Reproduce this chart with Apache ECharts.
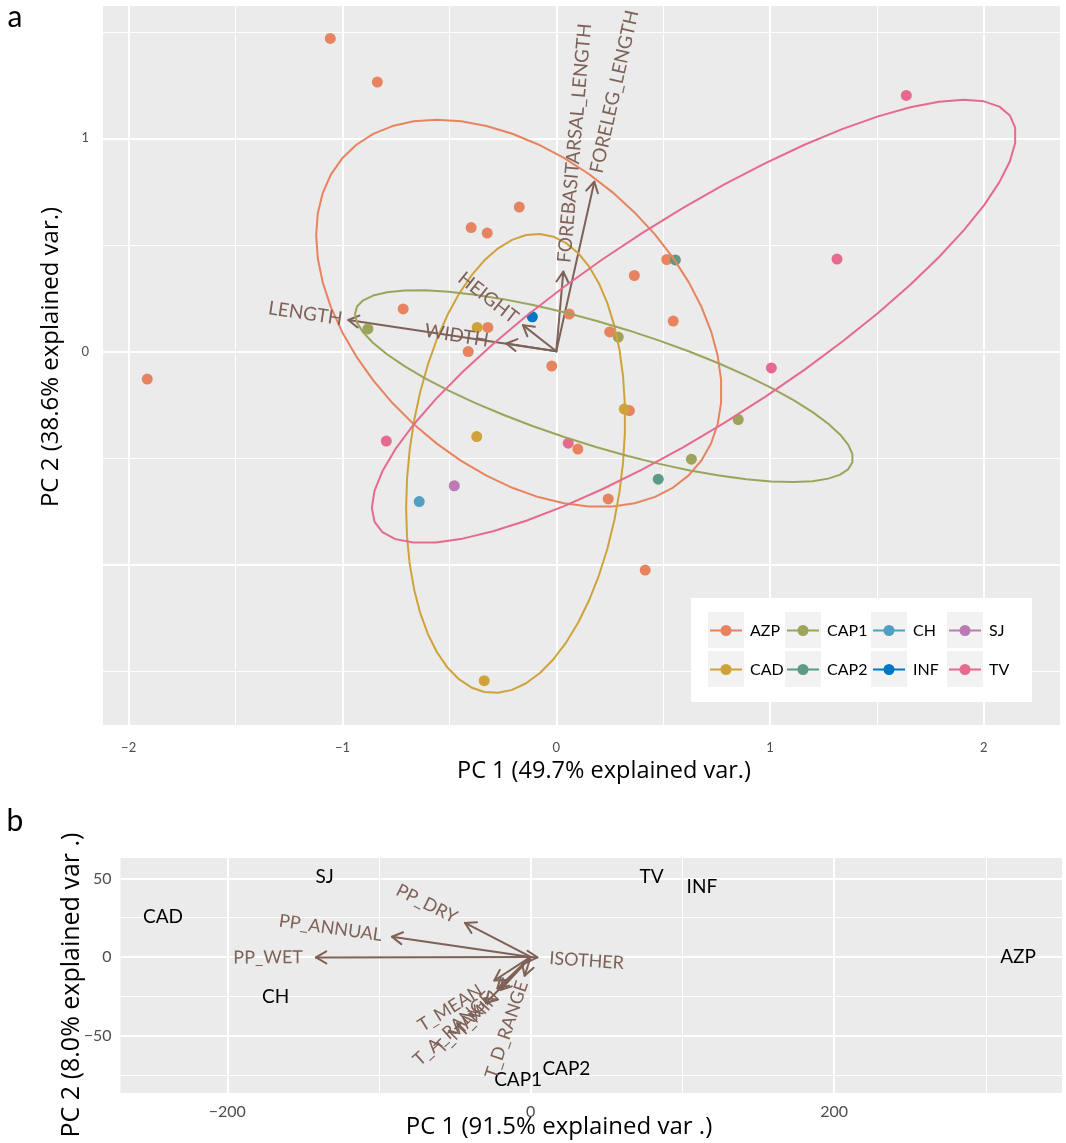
<!DOCTYPE html>
<html><head><meta charset="utf-8">
<script src="https://cdn.jsdelivr.net/npm/echarts@6/dist/echarts.min.js"></script>
<style>html,body{margin:0;padding:0;background:#fff}#c{width:1066px;height:1143px}</style>
</head><body><div id="c"></div>
<script>
// ---------------- DATA: panel a (individuals, PC1/PC2) ----------------
const groupNames = ['AZP','CAD','CAP1','CAP2','CH','INF','SJ','TV'];
const pc1_AZP = [-1.057,-0.837,-1.913,-0.398,-0.323,-0.173,-0.716,-0.320,-0.412,-0.021,0.061,0.250,0.365,0.517,0.547,0.342,0.101,0.243,0.416];
const pc2_AZP = [1.469,1.264,-0.130,0.581,0.555,0.677,0.199,0.112,-0.001,-0.069,0.175,0.091,0.356,0.431,0.142,-0.278,-0.459,-0.693,-1.027];
const pc1_CAD = [-0.370,-0.372,0.318,-0.337];
const pc2_CAD = [0.112,-0.400,-0.271,-1.546];
const pc1_CAP1 = [-0.881,0.290,0.851,0.632];
const pc2_CAP1 = [0.105,0.067,-0.320,-0.506];
const pc1_CAP2 = [0.557,0.477];
const pc2_CAP2 = [0.429,-0.600];
const pc1_CH = [-0.641];
const pc2_CH = [-0.705];
const pc1_INF = [-0.112];
const pc2_INF = [0.162];
const pc1_SJ = [-0.477];
const pc2_SJ = [-0.631];
const pc1_TV = [1.637,1.313,1.006,-0.795,0.056];
const pc2_TV = [1.201,0.433,-0.078,-0.421,-0.431];
const ellipseProb = 0.68;

// panel a variable loadings
const varNamesA = ['LENGTH','WIDTH','HEIGHT','FOREBASITARSAL_LENGTH','FORELEG_LENGTH'];
const varPC1A = [-0.973,-0.234,-0.156,0.033,0.178];
const varPC2A = [0.147,0.037,0.123,0.374,0.796];

// panel a axes
const xTicksA = [-2,-1,0,1,2];
const yTicksA = [0,1];
const xGridMajorA = [-2,-1,0,1,2];
const xGridMinorA = [-1.5,-0.5,0.5,1.5];
const yGridMajorA = [-1,0,1];
const yGridMinorA = [-1.5,-0.5,0.5,1.5];

// ---------------- DATA: panel b (sites, PC1/PC2) ----------------
const siteNames = ['SJ','CAD','CH','TV','INF','AZP','CAP2','CAP1'];
const sitePC1 = [-135.8,-242.4,-168.2,79.7,112.8,321.2,23.5,-8.3];
const sitePC2 = [51.3,25.6,-25.6,51.3,44.6,0,-71.0,-78.5];
const varNamesB = ['PP_WET','PP_ANNUAL','PP_DRY','ISOTHER','T_MEAN','T_A_RANGE','T_MAX','T_MIN','T_D_RANGE'];
const varPC1B = [-141.6,-91.5,-43.3,4.4,-24,-22,-29.6,-20,-4];
const varPC2B = [-0.3,12.9,21.7,-0.3,-15,-20,-29.3,-21,-12];
const xTicksB = [-200,0,200];
const yTicksB = [-50,0,50];
const xGridMajorB = [-200,0,200];
const xGridMinorB = [-100,100,300];
const yGridMajorB = [-50,0,50];
const yGridMinorB = [-75,-25,25];

// ---------------- STYLE / LAYOUT ----------------
const FONT = 'Lato, "Open Sans", sans-serif';
const TITLE_FONT = '"Open Sans", Lato, sans-serif';
const groupColors = {AZP:'#E8835F',CAD:'#D0A23B',CAP1:'#9CA35A',CAP2:'#5B9A86',CH:'#4FA0C4',INF:'#0077C4',SJ:'#BB7AB2',TV:'#E66A8D'};
const arrowColor = '#7E6157';
const labelGapA = {LENGTH:6, WIDTH:18, HEIGHT:9, FOREBASITARSAL_LENGTH:9, FORELEG_LENGTH:9};
const labelGapB = {PP_WET:13, PP_ANNUAL:10, PP_DRY:10, ISOTHER:12, T_MEAN:16, T_A_RANGE:10, T_MAX:8, T_MIN:6, T_D_RANGE:6};

const groupPC1 = {AZP:pc1_AZP,CAD:pc1_CAD,CAP1:pc1_CAP1,CAP2:pc1_CAP2,CH:pc1_CH,INF:pc1_INF,SJ:pc1_SJ,TV:pc1_TV};
const groupPC2 = {AZP:pc2_AZP,CAD:pc2_CAD,CAP1:pc2_CAP1,CAP2:pc2_CAP2,CH:pc2_CH,INF:pc2_INF,SJ:pc2_SJ,TV:pc2_TV};

function ellipse(xs, ys, prob) {
  const n = xs.length;
  const mx = xs.reduce((a,b)=>a+b,0)/n, my = ys.reduce((a,b)=>a+b,0)/n;
  let sxx=0, syy=0, sxy=0;
  for (let i=0;i<n;i++){ const dx=xs[i]-mx, dy=ys[i]-my; sxx+=dx*dx; syy+=dy*dy; sxy+=dx*dy; }
  sxx/=(n-1); syy/=(n-1); sxy/=(n-1);
  const a=Math.sqrt(sxx), b=sxy/a, c=Math.sqrt(Math.max(syy-b*b,0));
  const ed=Math.sqrt(-2*Math.log(1-prob));
  const th=[];
  for (let i=0;i<50;i++) th.push(-Math.PI+2*Math.PI*i/49);
  for (let i=0;i<50;i++) th.push(Math.PI-2*Math.PI*i/49);
  return th.map(t=>[mx+ed*Math.cos(t)*a, my+ed*(Math.cos(t)*b+Math.sin(t)*c)]);
}

function gridSeries(xi, xMaj, xMin, yMaj, yMin) {
  const d = [];
  xMin.forEach(v=>d.push({xAxis:v, lineStyle:{color:'#fff',width:1,type:'solid'}}));
  yMin.forEach(v=>d.push({yAxis:v, lineStyle:{color:'#fff',width:1,type:'solid'}}));
  xMaj.forEach(v=>d.push({xAxis:v, lineStyle:{color:'#fff',width:2,type:'solid'}}));
  yMaj.forEach(v=>d.push({yAxis:v, lineStyle:{color:'#fff',width:2,type:'solid'}}));
  return {type:'line', xAxisIndex:xi, yAxisIndex:xi, data:[], z:1, silent:true,
    markLine:{silent:true, symbol:['none','none'], label:{show:false}, z:1, animation:false, data:d}};
}

function arrowSeries(xi, names, xs, ys, z) {
  return {type:'custom', xAxisIndex:xi, yAxisIndex:xi, z:z, silent:true,
    data: names.map((n,i)=>[xs[i], ys[i], i]),
    renderItem:(params, api)=>{
      const o = api.coord([0,0]);
      const t = api.coord([api.value(0), api.value(1)]);
      const dx=t[0]-o[0], dy=t[1]-o[1];
      const len=Math.hypot(dx,dy)||1;
      const bx=-dx/len, by=-dy/len;
      const hl=12, ha=30*Math.PI/180, c=Math.cos(ha), s=Math.sin(ha);
      const h1=[t[0]+hl*(bx*c-by*s), t[1]+hl*(bx*s+by*c)];
      const h2=[t[0]+hl*(bx*c+by*s), t[1]+hl*(-bx*s+by*c)];
      const ls={stroke:arrowColor, lineWidth:2, fill:null, lineCap:'round', lineJoin:'round'};
      return {type:'group', children:[
        {type:'line', shape:{x1:o[0],y1:o[1],x2:t[0],y2:t[1]}, style:ls},
        {type:'polyline', shape:{points:[h1,t,h2]}, style:ls}
      ]};
    }};
}

function varLabelSeries(xi, names, xs, ys, gaps, fs, z) {
  return {type:'custom', xAxisIndex:xi, yAxisIndex:xi, z:z, silent:true,
    data: names.map((n,i)=>[xs[i], ys[i], i]),
    renderItem:(params, api)=>{
      const i = api.value(2);
      const vx=api.value(0), vy=api.value(1);
      const t = api.coord([vx, vy]);
      const th = Math.atan(vy/vx);
      const rd=[Math.cos(th), -Math.sin(th)];
      const sg = vx>=0?1:-1;
      const g = gaps[names[i]] || 8;
      const ax=t[0]+sg*g*rd[0], ay=t[1]+sg*g*rd[1];
      return {type:'text', x:ax, y:ay, rotation:th,
        style:{text:names[i], fill:arrowColor, fontSize:fs, fontFamily:FONT,
          align: sg>0?'left':'right', verticalAlign:'middle',
          textAlign: sg>0?'left':'right', textVerticalAlign:'middle'}};
    }};
}

const series = [];
series.push(gridSeries(0, xGridMajorA, xGridMinorA, yGridMajorA, yGridMinorA));
series.push(gridSeries(1, xGridMajorB, xGridMinorB, yGridMajorB, yGridMinorB));
series.push(arrowSeries(0, varNamesA, varPC1A, varPC2A, 2));
groupNames.forEach(g=>{
  series.push({type:'scatter', name:g, xAxisIndex:0, yAxisIndex:0, z:3, silent:true,
    symbolSize:11, itemStyle:{color:groupColors[g], opacity:1},
    data: groupPC1[g].map((x,i)=>[x, groupPC2[g][i]])});
});
groupNames.forEach(g=>{
  if (groupPC1[g].length <= 2) return;
  series.push({type:'line', name:g+'_ell', xAxisIndex:0, yAxisIndex:0, z:4, silent:true,
    showSymbol:false, symbol:'none', smooth:false,
    lineStyle:{color:groupColors[g], width:2},
    data: ellipse(groupPC1[g], groupPC2[g], ellipseProb)});
});
series.push(varLabelSeries(0, varNamesA, varPC1A, varPC2A, labelGapA, 19, 5));
// panel b
series.push(arrowSeries(1, varNamesB, varPC1B, varPC2B, 2));
series.push({type:'custom', xAxisIndex:1, yAxisIndex:1, z:3, silent:true,
  data: siteNames.map((n,i)=>[sitePC1[i], sitePC2[i], i]),
  renderItem:(params, api)=>{
    const p = api.coord([api.value(0), api.value(1)]);
    return {type:'text', x:p[0], y:p[1], style:{text:siteNames[api.value(2)], fill:'#000', fontSize:19, fontFamily:FONT,
      align:'center', verticalAlign:'middle', textAlign:'center', textVerticalAlign:'middle'}};
  }});
series.push(varLabelSeries(1, varNamesB, varPC1B, varPC2B, labelGapB, 18, 5));

// legend graphic (every element on top of the plot)
const LZ = 100;
const keyX=[708,785,871,947], keyY=[612,651];
const legendEls=[{type:'rect', z:LZ, shape:{x:691,y:598,width:341,height:104}, style:{fill:'#fff'}}];
groupNames.forEach((g,i)=>{
  const x=keyX[Math.floor(i/2)], y=keyY[i%2];
  legendEls.push({type:'rect', z:LZ+1, shape:{x:x,y:y,width:36,height:36}, style:{fill:'#F2F2F2'}});
  legendEls.push({type:'line', z:LZ+2, shape:{x1:x+2,y1:y+18.5,x2:x+34,y2:y+18.5}, style:{stroke:groupColors[g], lineWidth:2}});
  legendEls.push({type:'circle', z:LZ+3, shape:{cx:x+18,cy:y+18.5,r:5.5}, style:{fill:groupColors[g]}});
  legendEls.push({type:'text', z:LZ+4, x:x+42, y:y+19, style:{text:g, fill:'#000', fontSize:16, fontFamily:FONT, verticalAlign:'middle', textVerticalAlign:'middle'}});
});

const txt=(s,x,y,fs,rot,ff)=>({type:'text', z:LZ, x:x, y:y, rotation:rot||0,
  style:{text:s, fill:'#000', fontSize:fs, fontFamily:ff||FONT, align:'center', verticalAlign:'middle', textAlign:'center', textVerticalAlign:'middle'}});

const chart = echarts.init(document.getElementById('c'), null, {renderer:'canvas'});
chart.setOption({
  animation:false,
  backgroundColor:'#fff',
  grid:[
    {left:103, top:6, width:957, height:719, show:true, backgroundColor:'#EBEBEB', borderWidth:0, containLabel:false},
    {left:120.5, top:858, width:941.5, height:235, show:true, backgroundColor:'#EBEBEB', borderWidth:0, containLabel:false}
  ],
  xAxis:[
    {gridIndex:0, type:'value', min:-2.12, max:2.356, axisLine:{show:false},
      axisTick:{show:true, length:5, lineStyle:{color:'#333', width:1.5}, customValues:xTicksA},
      axisLabel:{customValues:xTicksA, color:'#4D4D4D', fontSize:13, margin:16, fontFamily:FONT,
        formatter:v=>String(v).replace('-','\u2212')},
      splitLine:{show:false}},
    {gridIndex:1, type:'value', min:-270.4, max:350.2, axisLine:{show:false},
      axisTick:{show:true, length:5, lineStyle:{color:'#333', width:1.5}, customValues:xTicksB},
      axisLabel:{customValues:xTicksB, color:'#4D4D4D', fontSize:16, margin:11, fontFamily:FONT,
        formatter:v=>String(v).replace('-','\u2212')},
      splitLine:{show:false}}
  ],
  yAxis:[
    {gridIndex:0, type:'value', min:-1.754, max:1.621, axisLine:{show:false},
      axisTick:{show:true, length:5, lineStyle:{color:'#333', width:1.5}, customValues:yTicksA},
      axisLabel:{customValues:yTicksA, color:'#4D4D4D', fontSize:13, margin:14, fontFamily:FONT},
      splitLine:{show:false}},
    {gridIndex:1, type:'value', min:-86.6, max:63.0, axisLine:{show:false},
      axisTick:{show:true, length:5, lineStyle:{color:'#333', width:1.5}, customValues:yTicksB},
      axisLabel:{customValues:yTicksB, color:'#4D4D4D', fontSize:16, margin:9, fontFamily:FONT,
        formatter:v=>String(v).replace('-','\u2212')},
      splitLine:{show:false}}
  ],
  graphic: legendEls.concat([
    txt('a',15,17,30),
    txt('b',15,821,30),
    txt('PC 1 (49.7% explained var.)',604,771,23.5,0,TITLE_FONT),
    txt('PC 2 (38.6% explained var.)',51,357,24,Math.PI/2,TITLE_FONT),
    txt('PC 1 (91.5% explained var .)',559,1127,24,0,TITLE_FONT),
    txt('PC 2 (8.0% explained var .)',72,985,25,Math.PI/2,TITLE_FONT)
  ]),
  series: series
});
</script></body></html>
